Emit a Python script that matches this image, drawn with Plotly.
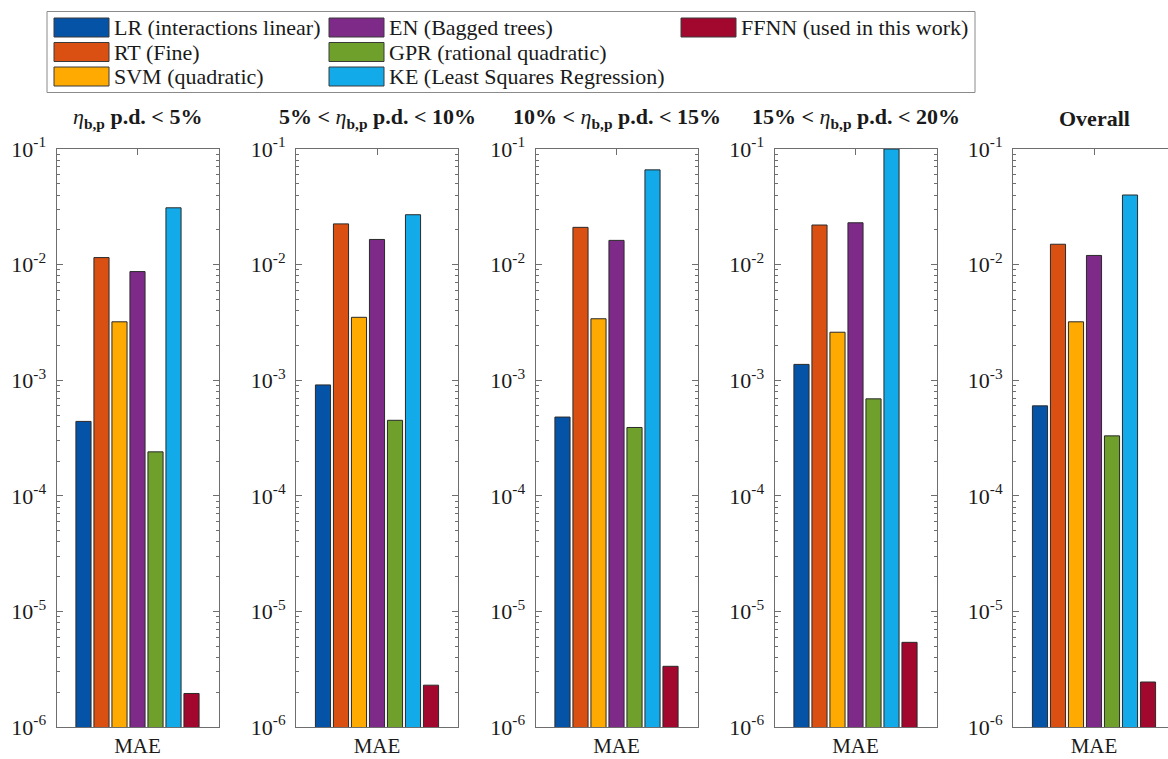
import plotly.graph_objects as go

# ---------------- data ----------------
models = [
    "LR (interactions linear)",
    "RT (Fine)",
    "SVM (quadratic)",
    "EN (Bagged trees)",
    "GPR (rational quadratic)",
    "KE (Least Squares Regression)",
    "FFNN (used in this work)",
]
colors = ["#0453A6", "#D95012", "#FFAA00", "#7E2A88", "#6FA02C", "#12AAE8", "#A2082E"]

panel_titles = [
    "<i>η</i><b><sub>b,p</sub> p.d. &lt; 5%</b>",
    "<b>5% &lt; </b><i>η</i><b><sub>b,p</sub> p.d. &lt; 10%</b>",
    "<b>10% &lt; </b><i>η</i><b><sub>b,p</sub> p.d. &lt; 15%</b>",
    "<b>15% &lt; </b><i>η</i><b><sub>b,p</sub> p.d. &lt; 20%</b>",
    "<b>Overall</b>",
]
category = ["MAE"]

mae_lt5 = [4.4e-4, 1.15e-2, 3.2e-3, 8.7e-3, 2.4e-4, 3.1e-2, 1.95e-6]
mae_5_10 = [9.1e-4, 2.25e-2, 3.5e-3, 1.65e-2, 4.5e-4, 2.7e-2, 2.3e-6]
mae_10_15 = [4.8e-4, 2.1e-2, 3.4e-3, 1.62e-2, 3.9e-4, 6.6e-2, 3.35e-6]
mae_15_20 = [1.37e-3, 2.2e-2, 2.6e-3, 2.3e-2, 6.9e-4, 1.0e-1, 5.4e-6]
mae_overall = [6.0e-4, 1.5e-2, 3.2e-3, 1.2e-2, 3.3e-4, 4.0e-2, 2.45e-6]
panels = [mae_lt5, mae_5_10, mae_10_15, mae_15_20, mae_overall]

y_tick_vals = [1e-6, 1e-5, 1e-4, 1e-3, 1e-2, 1e-1]
y_tick_text = ["10<sup>-6</sup>", "10<sup>-5</sup>", "10<sup>-4</sup>",
               "10<sup>-3</sup>", "10<sup>-2</sup>", "10<sup>-1</sup>"]

# ---------------- layout geometry (pixels) ----------------
W, H = 1168, 759
FONT = "Liberation Serif"
AX = "#6e6e6e"
TXT = "#1a1a1a"
panel_left = [56.5, 296, 535.5, 774.5, 1013]
panel_w = 162
top_px, bot_px = 149, 727

minor_vals = [m * 10.0 ** e for e in range(-6, -1) for m in range(2, 10)]

fig = go.Figure()
layout = dict(
    template="none",
    width=W, height=H,
    margin=dict(l=0, r=0, t=0, b=0, pad=0, autoexpand=False),
    paper_bgcolor="white", plot_bgcolor="white",
    barmode="group", bargap=0.222, bargroupgap=0.16,
    showlegend=False,
    font=dict(family=FONT, size=21, color=TXT),
)

for p, vals in enumerate(panels):
    n = "" if p == 0 else str(p + 1)
    for m, name in enumerate(models):
        fig.add_trace(go.Bar(
            x=category, y=[vals[m]], name=name,
            marker=dict(color=colors[m], line=dict(color="#2a2a2a", width=1)),
            xaxis="x" + n, yaxis="y" + n, showlegend=False,
        ))
    l = panel_left[p]
    r = min(l + panel_w, W)
    xr = [-0.5, -0.5 + (r - l) / panel_w]
    layout["xaxis" + n] = dict(
        domain=[l / W, r / W], anchor="y" + n, range=xr, automargin=False,
        showline=True, linecolor=AX, linewidth=1, mirror="ticks",
        ticks="inside", ticklen=6, tickcolor=AX, layer="below traces",
        tickfont=dict(family=FONT, size=21, color=TXT),
        ticklabelstandoff=0, showgrid=False, zeroline=False, fixedrange=True,
    )
    layout["yaxis" + n] = dict(
        domain=[1 - bot_px / H, 1 - top_px / H], anchor="x" + n,
        type="log", range=[-6, -1], automargin=False,
        tickmode="array", tickvals=y_tick_vals, ticktext=y_tick_text,
        showline=True, linecolor=AX, linewidth=1,
        mirror=("ticks" if p < 4 else False),
        ticks="inside", ticklen=6, tickcolor=AX,
        minor=dict(tickmode="array", tickvals=minor_vals, ticks="inside",
                   ticklen=3, tickcolor=AX, showgrid=False),
        tickfont=dict(family=FONT, size=22, color=TXT),
        ticklabelstandoff=5, showgrid=False, zeroline=False, fixedrange=True,
    )

annotations = []
shapes = []
# panel titles
for p, t in enumerate(panel_titles):
    cx = panel_left[p] + panel_w / 2
    annotations.append(dict(
        text=t, x=cx / W, y=1 - 118 / H, xref="paper", yref="paper",
        xanchor="center", yanchor="middle", showarrow=False,
        font=dict(family=FONT, size=22, color=TXT),
    ))

# legend box (column-major, 3 rows)
shapes.append(dict(type="rect", xref="paper", yref="paper",
                   x0=47 / W, x1=975 / W, y0=1 - 92.5 / H, y1=1 - 11.5 / H,
                   line=dict(color="#8a8a8a", width=1), fillcolor="white"))
col_x = [54, 329, 681]
row_y = [27.5, 52, 76.5]
sw_w, sw_h = 55, 19
for i, name in enumerate(models):
    c, r = i // 3, i % 3
    x0 = col_x[c]
    yc = row_y[r]
    shapes.append(dict(type="rect", xref="paper", yref="paper",
                       x0=x0 / W, x1=(x0 + sw_w) / W,
                       y0=1 - (yc + sw_h / 2) / H, y1=1 - (yc - sw_h / 2) / H,
                       line=dict(color="#3a3a3a", width=1), fillcolor=colors[i]))
    annotations.append(dict(
        text=name, x=(x0 + sw_w + 3) / W, y=1 - yc / H, xref="paper", yref="paper",
        xanchor="left", yanchor="middle", showarrow=False,
        font=dict(family=FONT, size=22, color=TXT),
    ))

layout["annotations"] = annotations
layout["shapes"] = shapes
fig.update_layout(**layout)
fig.write_html("out.html", config={"displayModeBar": False})
